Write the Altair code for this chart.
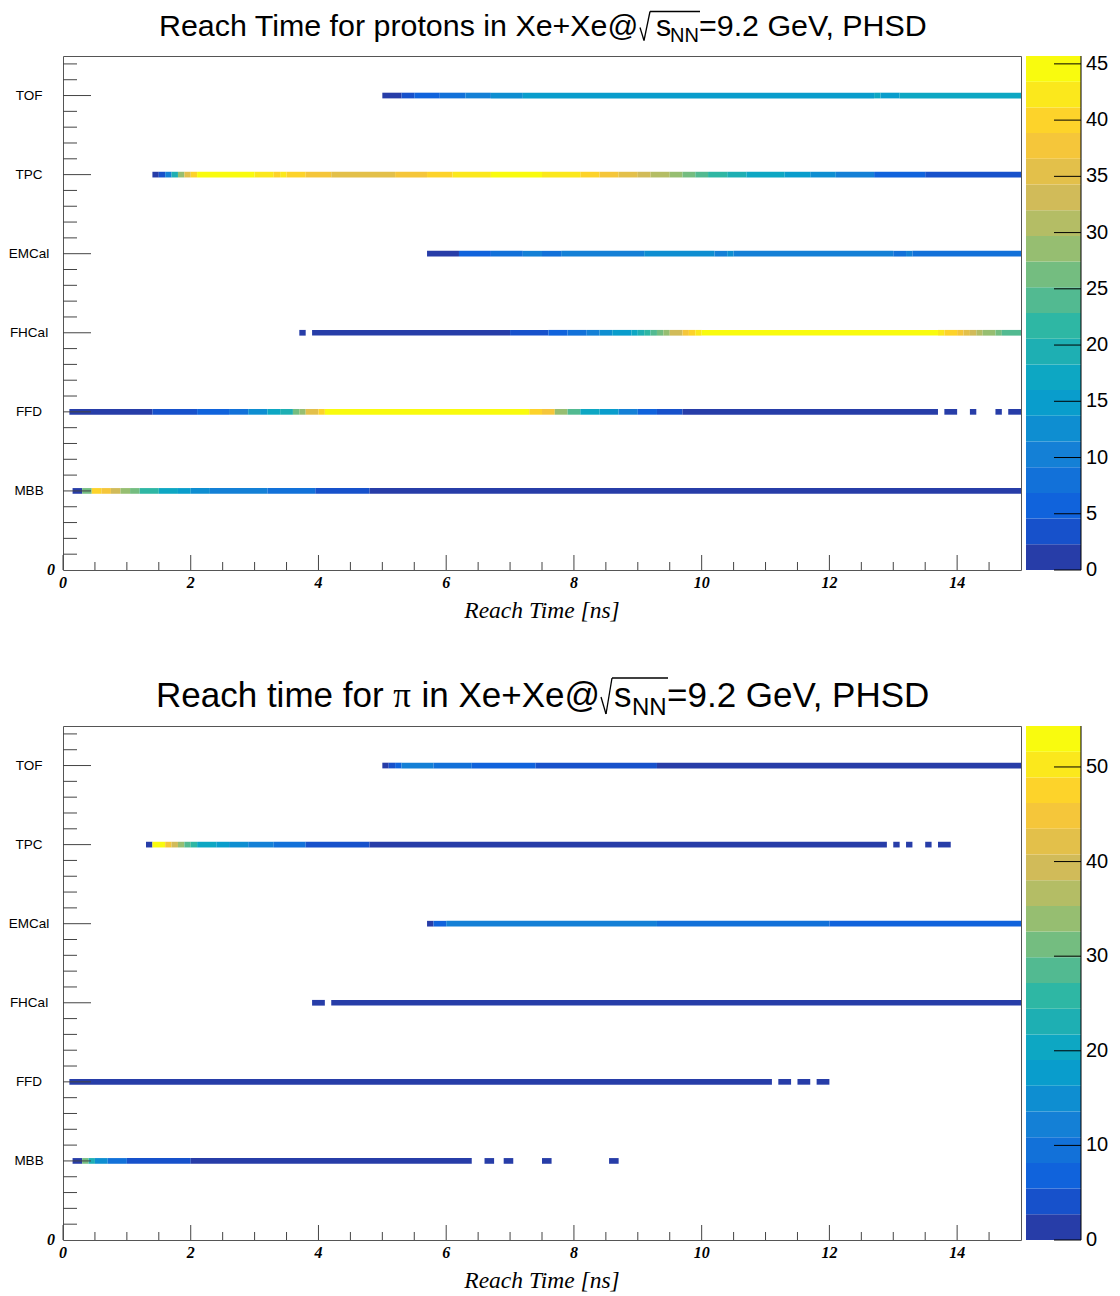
import altair as alt
import pandas as pd

# ---------------- data ----------------
DETECTORS = ["MBB", "FFD", "FHCal", "EMCal", "TPC", "TOF"]
DET_Y = [1, 2, 3, 4, 5, 6]

# protons: segments (start ns, end ns, counts)
P_MBB = [(0.15, 0.3, 1.1), (0.3, 0.45, 26.3), (0.45, 0.6, 40.0), (0.6, 0.75, 37.7), (0.75, 0.9, 33.1),
         (0.9, 1.05, 28.6), (1.05, 1.2, 26.3), (1.2, 1.5, 21.7), (1.5, 1.8, 17.1), (1.8, 2.0, 14.9),
         (2.0, 2.3, 12.6), (2.3, 3.2, 10.3), (3.2, 3.95, 8.0), (3.95, 4.8, 3.4), (4.8, 15.0, 1.1)]
P_FFD = [(0.1, 1.4, 1.1), (1.4, 2.1, 3.4), (2.1, 2.6, 5.7), (2.6, 2.9, 9.0), (2.9, 3.2, 12.6),
         (3.2, 3.4, 17.1), (3.4, 3.6, 19.4), (3.6, 3.7, 26.3), (3.7, 3.8, 28.6), (3.8, 4.0, 35.4),
         (4.0, 4.1, 40.0), (4.1, 7.3, 44.6), (7.3, 7.5, 40.0), (7.5, 7.7, 37.7), (7.7, 7.9, 28.6),
         (7.9, 8.1, 24.0), (8.1, 8.4, 17.1), (8.4, 8.7, 14.9), (8.7, 9.0, 10.3), (9.0, 9.3, 5.7),
         (9.3, 9.7, 3.4), (9.7, 13.7, 1.1), (13.8, 14.0, 1.1), (14.2, 14.3, 1.1), (14.6, 14.7, 1.1),
         (14.8, 15.0, 1.1)]
P_FHCAL = [(3.7, 3.8, 1.1), (3.9, 7.0, 1.1), (7.0, 7.6, 3.4), (7.6, 7.9, 5.7), (7.9, 8.2, 8.0),
           (8.2, 8.4, 10.3), (8.4, 8.6, 12.6), (8.6, 8.9, 14.9), (8.9, 9.0, 17.1), (9.0, 9.1, 19.4),
           (9.1, 9.2, 21.7), (9.2, 9.3, 24.0), (9.3, 9.4, 26.3), (9.4, 9.5, 28.6), (9.5, 9.7, 33.1),
           (9.7, 9.8, 37.7), (9.8, 9.9, 40.0), (9.9, 10.0, 42.3), (10.0, 13.7, 44.6), (13.7, 13.8, 42.3),
           (13.8, 14.0, 40.0), (14.0, 14.1, 37.7), (14.1, 14.2, 35.4), (14.2, 14.3, 33.1),
           (14.3, 14.4, 30.8), (14.4, 14.6, 28.6), (14.6, 14.7, 26.3), (14.7, 15.0, 24.0)]
P_EMCAL = [(5.7, 6.2, 1.1), (6.2, 6.7, 5.7), (6.7, 7.2, 8.0), (7.2, 7.5, 10.3), (7.5, 7.8, 8.0),
           (7.8, 9.1, 10.3), (9.1, 10.2, 12.6), (10.2, 10.4, 10.3), (10.4, 10.5, 12.6),
           (10.5, 13.0, 10.3), (13.0, 13.2, 8.0), (13.2, 13.3, 10.3), (13.3, 15.0, 8.0)]
P_TPC = [(1.4, 1.5, 1.1), (1.5, 1.6, 3.4), (1.6, 1.7, 10.3), (1.7, 1.8, 20.5), (1.8, 1.9, 28.6),
         (1.9, 2.0, 35.4), (2.0, 2.1, 40.0), (2.1, 3.0, 44.6), (3.0, 3.3, 42.3), (3.3, 3.4, 40.0),
         (3.4, 3.5, 42.3), (3.5, 3.8, 40.0), (3.8, 4.2, 37.7), (4.2, 5.2, 35.4), (5.2, 5.7, 37.7),
         (5.7, 6.1, 40.0), (6.1, 6.7, 42.3), (6.7, 7.5, 44.6), (7.5, 8.1, 42.3), (8.1, 8.4, 40.0),
         (8.4, 8.7, 37.7), (8.7, 9.0, 35.4), (9.0, 9.2, 33.1), (9.2, 9.5, 30.8), (9.5, 9.7, 28.6),
         (9.7, 9.9, 26.3), (9.9, 10.1, 24.0), (10.1, 10.4, 21.7), (10.4, 10.7, 19.4),
         (10.7, 11.3, 17.1), (11.3, 11.7, 14.9), (11.7, 12.1, 12.6), (12.1, 12.7, 10.3),
         (12.7, 13.5, 5.7), (13.5, 15.0, 3.4)]
P_TOF = [(5.0, 5.3, 1.1), (5.3, 5.5, 3.4), (5.5, 5.9, 5.7), (5.9, 6.3, 8.0), (6.3, 6.7, 10.3),
         (6.7, 7.2, 12.6), (7.2, 12.7, 14.9), (12.7, 12.8, 17.1), (12.8, 13.1, 14.9), (13.1, 15.0, 17.1)]
P_SEGS = [P_MBB, P_FFD, P_FHCAL, P_EMCAL, P_TPC, P_TOF]
ZMAX_P = 45.7
CB_TICKS_P = [0, 5, 10, 15, 20, 25, 30, 35, 40, 45]

# pions
PI_MBB = [(0.15, 0.3, 1.4), (0.3, 0.4, 31.2), (0.4, 0.5, 23.1), (0.5, 0.7, 14.9), (0.7, 1.0, 9.5),
          (1.0, 2.0, 4.1), (2.0, 6.4, 1.4), (6.6, 6.75, 1.4), (6.9, 7.05, 1.4), (7.5, 7.65, 1.4),
          (8.55, 8.7, 1.4)]
PI_FFD = [(0.1, 11.1, 1.4), (11.2, 11.4, 1.4), (11.5, 11.7, 1.4), (11.8, 12.0, 1.4)]
PI_FHCAL = [(3.9, 4.1, 1.4), (4.2, 15.0, 1.4)]
PI_EMCAL = [(5.7, 5.8, 1.4), (5.8, 6.0, 6.8), (6.0, 9.3, 12.2), (9.3, 12.0, 9.5), (12.0, 15.0, 6.8)]
PI_TPC = [(1.3, 1.4, 1.4), (1.4, 1.6, 53.0), (1.6, 1.7, 44.8), (1.7, 1.8, 39.4), (1.8, 1.9, 34.0),
          (1.9, 2.0, 28.5), (2.0, 2.1, 25.8), (2.1, 2.4, 20.4), (2.4, 2.6, 17.7), (2.6, 2.9, 14.9),
          (2.9, 3.3, 12.2), (3.3, 3.8, 9.5), (3.8, 4.8, 4.1), (4.8, 12.9, 1.4), (13.0, 13.1, 1.4),
          (13.2, 13.3, 1.4), (13.5, 13.6, 1.4), (13.7, 13.9, 1.4)]
PI_TOF = [(5.0, 5.1, 1.4), (5.1, 5.2, 4.1), (5.2, 5.3, 6.8), (5.3, 5.8, 12.2), (5.8, 6.4, 9.5),
          (6.4, 7.4, 6.8), (7.4, 9.3, 4.1), (9.3, 15.0, 1.4)]
PI_SEGS = [PI_MBB, PI_FFD, PI_FHCAL, PI_EMCAL, PI_TPC, PI_TOF]
ZMAX_PI = 54.33
CB_TICKS_PI = [0, 10, 20, 30, 40, 50]

X_LABELS = [0, 2, 4, 6, 8, 10, 12, 14]
X_MINOR = [v / 2 for v in range(0, 30) if v % 4 != 0]
Y_MAJOR = [1, 2, 3, 4, 5, 6]
Y_MINOR = [v / 5 for v in range(1, 33) if v % 5 != 0]
X_TITLE = "Reach Time [ns]"

# ---------------- style ----------------
W, H = 958, 514
SANS = "Liberation Sans"
SERIF = "Liberation Serif"
TICK = "#444444"

BIRD_STOPS = [0.0, 0.125, 0.25, 0.375, 0.5, 0.625, 0.75, 0.875, 1.0]
BIRD_R = [0.2082, 0.0592, 0.0780, 0.0232, 0.1802, 0.5301, 0.8186, 0.9956, 0.9764]
BIRD_G = [0.1664, 0.3599, 0.5041, 0.6419, 0.7178, 0.7492, 0.7328, 0.7862, 0.9832]
BIRD_B = [0.5293, 0.8684, 0.8385, 0.7914, 0.6425, 0.4662, 0.3499, 0.1968, 0.0539]


def bird(t):
    for i in range(8):
        if t <= BIRD_STOPS[i + 1] + 1e-9:
            f = (t - BIRD_STOPS[i]) / (BIRD_STOPS[i + 1] - BIRD_STOPS[i])
            c = [a + (b - a) * f for a, b in ((BIRD_R[i], BIRD_R[i + 1]),
                                             (BIRD_G[i], BIRD_G[i + 1]),
                                             (BIRD_B[i], BIRD_B[i + 1]))]
            return "#" + "".join("%02x" % int(round(255 * v)) for v in c)
    return "#f9fb0e"


NCONT = 20
PALETTE = [bird(int((i + 0.99) * 255 / NCONT) / 254) for i in range(NCONT)]


def one(**kw):
    return alt.Data(values=[dict(kw)])


def panel(segs, zmax, cb_ticks, texts, radical):
    rows = []
    for name, ypos, s in zip(DETECTORS, DET_Y, segs):
        for a, b, v in s:
            rows.append({"det": name, "pos": ypos, "x0": a, "x1": b, "value": v})
    df = pd.DataFrame(rows)

    xs = alt.Scale(domain=[0, 15], nice=False, zero=False)
    ys = alt.Scale(domain=[0, 6.5], nice=False, zero=False)
    cs = alt.Scale(type="quantize", domain=[0, zmax], range=PALETTE)

    bars = alt.Chart(df).transform_calculate(
        ylo="datum.pos - 0.036", yhi="datum.pos + 0.036"
    ).mark_rect().encode(
        x=alt.X("x0:Q", scale=xs, axis=None),
        x2="x1:Q",
        y=alt.Y("ylo:Q", scale=ys, axis=None),
        y2="yhi:Q",
        color=alt.Color("value:Q", scale=cs, legend=None),
    )

    ymin = alt.Chart(pd.DataFrame({"t": Y_MINOR})).mark_rule(color=TICK).encode(
        y=alt.Y("t:Q", scale=ys, axis=None), x=alt.value(0), x2=alt.value(14))
    ymaj = alt.Chart(pd.DataFrame({"t": Y_MAJOR})).mark_rule(color=TICK).encode(
        y=alt.Y("t:Q", scale=ys, axis=None), x=alt.value(0), x2=alt.value(28))
    xmin = alt.Chart(pd.DataFrame({"t": X_MINOR})).mark_rule(color=TICK).encode(
        x=alt.X("t:Q", scale=xs, axis=None), y=alt.value(H), y2=alt.value(H - 8))
    xmaj = alt.Chart(pd.DataFrame({"t": X_LABELS})).mark_rule(color=TICK).encode(
        x=alt.X("t:Q", scale=xs, axis=None), y=alt.value(H), y2=alt.value(H - 15))

    ylab = alt.Chart(pd.DataFrame({"det": DETECTORS, "pos": DET_Y})).mark_text(
        font=SANS, fontSize=13.5, align="center", baseline="middle", color="black").encode(
        y=alt.Y("pos:Q", scale=ys, axis=None), x=alt.value(-34), text="det:N")
    zero = alt.Chart(pd.DataFrame({"v": [0]})).mark_text(
        font=SERIF, fontStyle="italic", fontWeight="bold", fontSize=16,
        align="center", baseline="middle", color="black").encode(
        y=alt.Y("v:Q", scale=ys, axis=None), x=alt.value(-12), text=alt.value("0"))
    xlab = alt.Chart(pd.DataFrame({"t": X_LABELS})).mark_text(
        font=SERIF, fontStyle="italic", fontWeight="bold", fontSize=16,
        align="center", baseline="middle", color="black").encode(
        x=alt.X("t:Q", scale=xs, axis=None), y=alt.value(H + 13), text="t:Q")
    xtitle = alt.Chart(one(k=X_TITLE)).mark_text(
        font=SERIF, fontStyle="italic", fontSize=23.5, align="center", baseline="middle",
        color="black").encode(x=alt.value(W / 2), y=alt.value(H + 41), text=alt.value(X_TITLE))

    main = alt.layer(bars, ymin, ymaj, xmin, xmaj, ylab, zero, xlab)

    cbs = alt.Scale(domain=[0, zmax], nice=False, zero=False)
    cb_df = pd.DataFrame({
        "lo": [i * zmax / NCONT for i in range(NCONT)],
        "hi": [(i + 1) * zmax / NCONT for i in range(NCONT)],
        "mid": [(i + 0.5) * zmax / NCONT for i in range(NCONT)],
    })
    cb = alt.Chart(cb_df).mark_rect().encode(
        x=alt.value(W + 5), x2=alt.value(W + 60),
        y=alt.Y("lo:Q", scale=cbs, axis=None),
        y2="hi:Q",
        color=alt.Color("mid:Q", scale=cs, legend=None),
    )
    cbt = alt.Chart(pd.DataFrame({"t": cb_ticks})).mark_rule(color="black").encode(
        y=alt.Y("t:Q", scale=cbs, axis=None), x=alt.value(W + 33), x2=alt.value(W + 60))
    cbl = alt.Chart(pd.DataFrame({"t": cb_ticks})).mark_text(
        font=SANS, fontSize=20, align="left", baseline="middle", color="black").encode(
        y=alt.Y("t:Q", scale=cbs, axis=None), x=alt.value(W + 65), text="t:Q")
    cbd = alt.Chart(one(k="cbd")).mark_rule(color="black").encode(
        x=alt.value(W + 60), y=alt.value(0), y2=alt.value(H))
    colorbar = alt.layer(cb, cbt, cbl)

    deco = [xtitle, cbd]
    for txt, x, y, size, font, align in texts:
        deco.append(alt.Chart(one(k=txt)).mark_text(
            font=font, fontSize=size, align=align, baseline="alphabetic", color="black"
        ).encode(x=alt.value(x), y=alt.value(y), text=alt.value(txt)))
    for x1, y1, x2, y2 in radical:
        deco.append(alt.Chart(one(k=x1)).mark_rule(color="black", strokeWidth=1.3).encode(
            x=alt.value(x1), y=alt.value(y1), x2=alt.value(x2), y2=alt.value(y2)))

    return alt.layer(main, colorbar, *deco).resolve_scale(y="independent").properties(
        width=W, height=H)


TOP_TEXTS = [
    ("Reach Time for protons in Xe+Xe@", 96, -20.5, 30.4, SANS, "left"),
    ("s", 593, -20.5, 30.4, SANS, "left"),
    ("NN", 607, -14.5, 20, SANS, "left"),
    ("=9.2 GeV, PHSD", 636, -20.5, 30.4, SANS, "left"),
]
TOP_RADICAL = [(577, -28.5, 581, -15.5), (581, -15.5, 587, -44.5), (587, -44.5, 637, -44.5)]

BOT_TEXTS = [
    ("Reach time for", 93, -19, 35, SANS, "left"),
    ("\u03c0", 339, -19, 35, SERIF, "center"),
    ("in Xe+Xe@", 537, -19, 35, SANS, "right"),
    ("s", 551, -19, 35, SANS, "left"),
    ("NN", 569, -11, 24, SANS, "left"),
    ("=9.2 GeV, PHSD", 604, -19, 35, SANS, "left"),
]
BOT_RADICAL = [(538, -29, 543, -12), (543, -12, 549, -48), (549, -48, 605, -48)]

top = panel(P_SEGS, ZMAX_P, CB_TICKS_P, TOP_TEXTS, TOP_RADICAL)
bottom = panel(PI_SEGS, ZMAX_PI, CB_TICKS_PI, BOT_TEXTS, BOT_RADICAL)

chart = alt.vconcat(top, bottom, spacing=53).resolve_scale(
    x="independent", y="independent", color="independent"
).properties(
    padding={"left": 0, "top": 2, "right": 0, "bottom": 0}
).configure_view(stroke="#555555", strokeWidth=1)

chart.save("out.html", embed_options={"renderer": "svg", "actions": False})
